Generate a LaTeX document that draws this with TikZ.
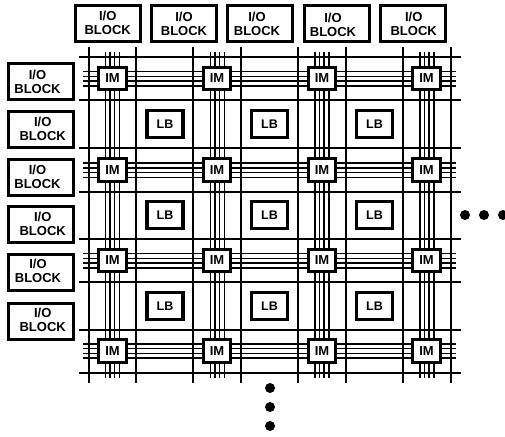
\documentclass[tikz,border=0pt]{standalone}
\usepackage{fontspec}
\setmainfont{Liberation Sans}
\tikzset{
  gridline/.style={line width=1.5pt,black},
  busline/.style={line width=1.5pt,black},
  iobox/.style={draw,line width=3pt,fill=white,minimum width=65pt,minimum height=36pt,inner sep=0pt},
  iotext/.style={inner sep=0pt,align=center,font=\fontsize{13}{14}\selectfont\bfseries},
  imbox/.style={draw,line width=3.2pt,fill=white,minimum width=27.5pt,minimum height=22.5pt,inner sep=0pt,font=\fontsize{13}{14}\selectfont\bfseries},
  lbbox/.style={draw,line width=3.2pt,fill=white,minimum width=36pt,minimum height=27.5pt,inner sep=0pt,font=\fontsize{12.5}{14}\selectfont\bfseries},
  dotmark/.style={circle,fill=black,minimum size=10pt,inner sep=0pt}
}
\begin{document}
\begin{tikzpicture}[x=1pt,y=-1pt]
\useasboundingbox (0,0) rectangle (505,436);
% long routing lines
\foreach \x in {89,136,193,241,298,346,403,451}
  \draw[gridline] (\x,47) -- (\x,383);
\foreach \y in {57,100,148,192,239,282,330,373}
  \draw[gridline] (79,\y) -- (461,\y);
% IM bus lines
\foreach \cx in {112.5,217.5,322,427}
  \foreach \d in {-7,-2.4,2.2,6.8}
    \draw[busline] (\cx+\d,52) -- (\cx+\d,378);
\foreach \cy in {78.8,170.3,260.7,351}
  \foreach \d in {-7.2,-2.4,2.3,7.2}
    \draw[busline] (83,\cy+\d) -- (456,\cy+\d);
% IM blocks
\foreach \r/\cy in {1/78.5,2/170,3/260.5,4/351}
  \foreach \c/\cx in {1/112.5,2/217,3/322,4/426.5}
    \node[imbox] (im\r\c) at (\cx,\cy) {IM};
% LB blocks
\foreach \r/\cy in {1/124,2/215,3/306}
  \foreach \c/\cx in {1/165,2/269.5,3/374.5}
    \node[lbbox] (lb\r\c) at (\cx,\cy) {LB};
% top I/O
\foreach \n/\cx/\tx/\ty in {1/107.8/107.7/23,2/183.8/184/23.5,3/260/257/23.5,4/336.5/333/24.5,5/413/413.7/23.5}{
  \node[iobox] (top\n) at (\cx,23.5) {};
  \node[iotext] (toptext\n) at (\tx,\ty) {I/O\\BLOCK};
}
% left I/O
\foreach \n/\cy/\tx/\ty in {1/81/37.5/82,2/129/42.7/129,3/177/37.5/176.5,4/224.5/42.7/223.7,5/272.5/38/271,6/321/42.7/320}{
  \node[iobox] (left\n) at (40.8,\cy) {};
  \node[iotext] (lefttext\n) at (\tx,\ty) {I/O\\BLOCK};
}
% ellipsis dots
\foreach \n/\x in {1/465,2/484,3/503}
  \node[dotmark] (rdot\n) at (\x,215) {};
\foreach \n/\y in {1/388,2/407,3/426}
  \node[dotmark] (bdot\n) at (270,\y) {};
\end{tikzpicture}
\end{document}
